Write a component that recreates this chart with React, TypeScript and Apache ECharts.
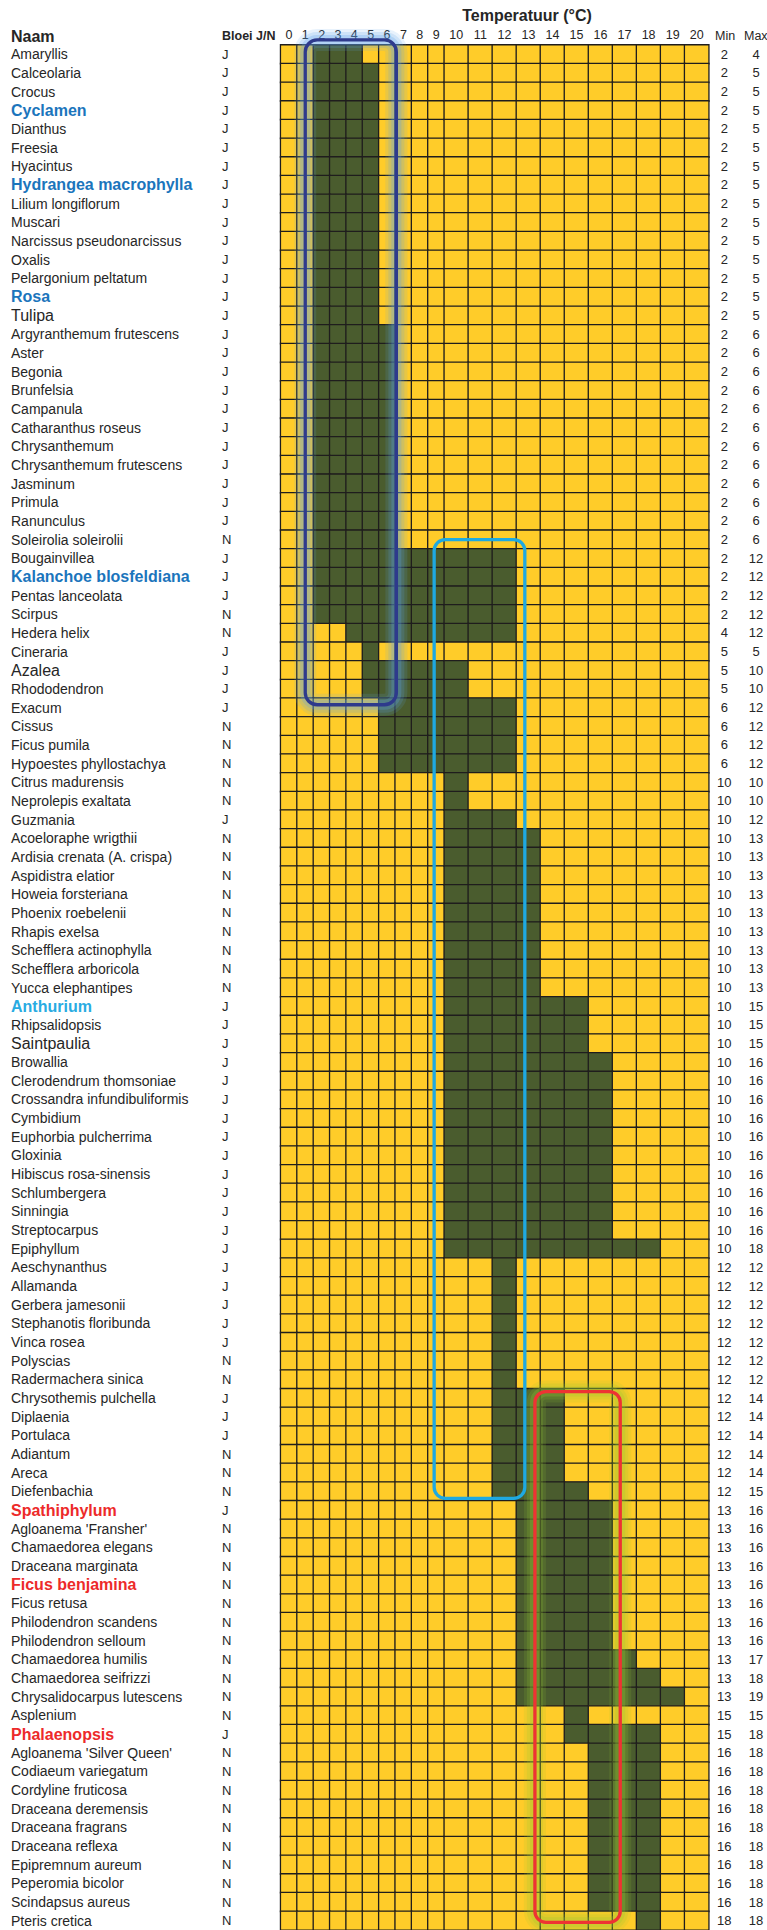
import React, { useEffect, useRef } from 'react';
import * as echarts from 'echarts';

const names = [
  'Amaryllis', 'Calceolaria', 'Crocus', 'Cyclamen', 'Dianthus', 'Freesia', 'Hyacintus',
  'Hydrangea macrophylla', 'Lilium longiflorum', 'Muscari', 'Narcissus pseudonarcissus', 'Oxalis',
  'Pelargonium peltatum', 'Rosa', 'Tulipa', 'Argyranthemum frutescens', 'Aster', 'Begonia',
  'Brunfelsia', 'Campanula', 'Catharanthus roseus', 'Chrysanthemum', 'Chrysanthemum frutescens',
  'Jasminum', 'Primula', 'Ranunculus', 'Soleirolia soleirolii', 'Bougainvillea',
  'Kalanchoe blosfeldiana', 'Pentas lanceolata', 'Scirpus', 'Hedera helix', 'Cineraria', 'Azalea',
  'Rhododendron', 'Exacum', 'Cissus', 'Ficus pumila', 'Hypoestes phyllostachya', 'Citrus madurensis',
  'Neprolepis exaltata', 'Guzmania', 'Acoeloraphe wrigthii', 'Ardisia crenata (A. crispa)',
  'Aspidistra elatior', 'Howeia forsteriana', 'Phoenix roebelenii', 'Rhapis exelsa',
  'Schefflera actinophylla', 'Schefflera arboricola', 'Yucca elephantipes', 'Anthurium',
  'Rhipsalidopsis', 'Saintpaulia', 'Browallia', 'Clerodendrum thomsoniae',
  'Crossandra infundibuliformis', 'Cymbidium', 'Euphorbia pulcherrima', 'Gloxinia',
  'Hibiscus rosa-sinensis', 'Schlumbergera', 'Sinningia', 'Streptocarpus', 'Epiphyllum',
  'Aeschynanthus', 'Allamanda', 'Gerbera jamesonii', 'Stephanotis floribunda', 'Vinca rosea',
  'Polyscias', 'Radermachera sinica', 'Chrysothemis pulchella', 'Diplaenia', 'Portulaca',
  'Adiantum', 'Areca', 'Diefenbachia', 'Spathiphylum', "Agloanema 'Fransher'",
  'Chamaedorea elegans', 'Draceana marginata', 'Ficus benjamina', 'Ficus retusa',
  'Philodendron scandens', 'Philodendron selloum', 'Chamaedorea humilis', 'Chamaedorea seifrizzi',
  'Chrysalidocarpus lutescens', 'Asplenium', 'Phalaenopsis', "Agloanema 'Silver Queen'",
  'Codiaeum variegatum', 'Cordyline fruticosa', 'Draceana deremensis', 'Draceana fragrans',
  'Draceana reflexa', 'Epipremnum aureum', 'Peperomia bicolor', 'Scindapsus aureus', 'Pteris cretica',
];

const bloei = [
  'J', 'J', 'J', 'J', 'J', 'J', 'J', 'J', 'J', 'J', 'J', 'J', 'J', 'J', 'J',
  'J', 'J', 'J', 'J', 'J', 'J', 'J', 'J', 'J', 'J', 'J', 'N', 'J', 'J', 'J',
  'N', 'N', 'J', 'J', 'J', 'J', 'N', 'N', 'N', 'N', 'N', 'J', 'N', 'N', 'N',
  'N', 'N', 'N', 'N', 'N', 'N', 'J', 'J', 'J', 'J', 'J', 'J', 'J', 'J', 'J',
  'J', 'J', 'J', 'J', 'J', 'J', 'J', 'J', 'J', 'J', 'N', 'N', 'J', 'J', 'J',
  'N', 'N', 'N', 'J', 'N', 'N', 'N', 'N', 'N', 'N', 'N', 'N', 'N', 'N', 'N',
  'J', 'N', 'N', 'N', 'N', 'N', 'N', 'N', 'N', 'N', 'N',
];

const minTemp = [
  2, 2, 2, 2, 2, 2, 2, 2, 2, 2, 2, 2, 2, 2, 2,
  2, 2, 2, 2, 2, 2, 2, 2, 2, 2, 2, 2, 2, 2, 2,
  2, 4, 5, 5, 5, 6, 6, 6, 6, 10, 10, 10, 10, 10, 10,
  10, 10, 10, 10, 10, 10, 10, 10, 10, 10, 10, 10, 10, 10, 10,
  10, 10, 10, 10, 10, 12, 12, 12, 12, 12, 12, 12, 12, 12, 12,
  12, 12, 12, 13, 13, 13, 13, 13, 13, 13, 13, 13, 13, 13, 15,
  15, 16, 16, 16, 16, 16, 16, 16, 16, 16, 18,
];

const maxTemp = [
  4, 5, 5, 5, 5, 5, 5, 5, 5, 5, 5, 5, 5, 5, 5,
  6, 6, 6, 6, 6, 6, 6, 6, 6, 6, 6, 6, 12, 12, 12,
  12, 12, 5, 10, 10, 12, 12, 12, 12, 10, 10, 12, 13, 13, 13,
  13, 13, 13, 13, 13, 13, 15, 15, 15, 16, 16, 16, 16, 16, 16,
  16, 16, 16, 16, 18, 12, 12, 12, 12, 12, 12, 12, 14, 14, 14,
  14, 14, 15, 16, 16, 16, 16, 16, 16, 16, 16, 17, 18, 19, 15,
  18, 18, 18, 18, 18, 18, 18, 18, 18, 18, 18,
];

const tempsLow = ['0', '1', '2', '3', '4', '5', '6', '7', '8', '9'];
const tempsHigh = ['10', '11', '12', '13', '14', '15', '16', '17', '18', '19', '20'];

const blueNames = ['Cyclamen', 'Hydrangea macrophylla', 'Rosa', 'Kalanchoe blosfeldiana'];
const cyanNames = ['Anthurium'];
const redNames = ['Spathiphylum', 'Ficus benjamina', 'Phalaenopsis'];
const largeNames = ['Tulipa', 'Azalea', 'Saintpaulia'];

const FONT = "'Liberation Sans', Arial, Helvetica, sans-serif";
const TEXT = '#262626';
const YELLOW = '#FFCC29';
const GREEN = '#4A5C2E';
const LINE = '#1f1d1d';

const cells = (cats: string[]) => {
  const out: number[][] = [];
  names.forEach((_, r) => {
    cats.forEach((c, ci) => {
      const t = Number(c);
      out.push([ci, r, t >= minTemp[r] && t <= maxTemp[r] ? 1 : 0]);
    });
  });
  return out;
};

const nameFormatter = (v: string) => {
  if (blueNames.includes(v)) return `{b|${v}}`;
  if (cyanNames.includes(v)) return `{c|${v}}`;
  if (redNames.includes(v)) return `{r|${v}}`;
  if (largeNames.includes(v)) return `{l|${v}}`;
  return `{n|${v}}`;
};

export default function App() {
  const ref = useRef<HTMLDivElement>(null);
  useEffect(() => {
    const chart = echarts.init(ref.current!, null, { renderer: 'svg' });
    const hiddenY = {
      type: 'category' as const,
      data: names,
      inverse: true,
      axisLine: { show: false },
      axisTick: { show: false },
      splitLine: { show: false },
    };
    const xCommon = {
      type: 'category' as const,
      position: 'top' as const,
      axisLine: { show: false },
      axisTick: { show: false },
      splitLine: { show: false },
      axisLabel: {
        margin: 4,
        interval: 0,
        formatter: (v: string) => `{t|${v}}`,
        rich: { t: { fontSize: 12.5, color: TEXT, fontFamily: FONT } },
      },
    };
    const colLabel = (margin: number, align: string, values: (string | number)[]) => ({
      interval: 0,
      align,
      margin,
      formatter: (_: string, i: number) => `{v|${values[i]}}`,
      rich: { v: { fontSize: 13, color: TEXT, fontFamily: FONT } },
    });
    const cellStyle = { borderColor: LINE, borderWidth: 1.3 };
    chart.setOption({
      animation: false,
      backgroundColor: '#ffffff',
      textStyle: { fontFamily: FONT },
      grid: [
        { left: 280.7, top: 45, width: 163.6, height: 1890.4 },
        { left: 444.3, top: 45, width: 264.4, height: 1890.4 },
      ],
      xAxis: [
        { ...xCommon, gridIndex: 0, data: tempsLow },
        { ...xCommon, gridIndex: 1, data: tempsHigh },
      ],
      yAxis: [
        {
          ...hiddenY,
          gridIndex: 0,
          position: 'left',
          axisLabel: {
            interval: 0,
            align: 'left',
            margin: 269.7,
            formatter: nameFormatter,
            rich: {
              n: { color: TEXT, fontSize: 14, fontFamily: FONT },
              b: { color: '#1B75BC', fontWeight: 'bold', fontSize: 16, fontFamily: FONT },
              c: { color: '#29ABE2', fontWeight: 'bold', fontSize: 16, fontFamily: FONT },
              r: { color: '#ED2A2A', fontWeight: 'bold', fontSize: 16, fontFamily: FONT },
              l: { color: TEXT, fontSize: 16, fontFamily: FONT },
            },
          },
        },
        { ...hiddenY, gridIndex: 0, position: 'left', axisLabel: colLabel(58.7, 'left', bloei) },
        { ...hiddenY, gridIndex: 1, position: 'right', axisLabel: colLabel(15.6, 'center', minTemp) },
        { ...hiddenY, gridIndex: 1, position: 'right', axisLabel: colLabel(47.3, 'center', maxTemp) },
      ],
      visualMap: {
        type: 'piecewise',
        show: false,
        dimension: 2,
        seriesIndex: [0, 1],
        pieces: [
          { value: 0, color: YELLOW },
          { value: 1, color: GREEN },
        ],
      },
      series: [
        {
          type: 'heatmap',
          xAxisIndex: 0,
          yAxisIndex: 0,
          data: cells(tempsLow),
          itemStyle: cellStyle,
          emphasis: { disabled: true },
        },
        {
          type: 'heatmap',
          xAxisIndex: 1,
          yAxisIndex: 2,
          data: cells(tempsHigh),
          itemStyle: cellStyle,
          emphasis: { disabled: true },
        },
      ],
    });

    const xPix = (t: number) => {
      const k = Math.max(0, Math.min(20, Math.round(t)));
      const ax = k < 10 ? 0 : 1;
      const i = k < 10 ? k : k - 10;
      const c = chart.convertToPixel({ xAxisIndex: ax }, i) as number;
      const n = chart.convertToPixel({ xAxisIndex: ax }, i + 1) as number;
      return c + (t - k) * (n - c);
    };
    const yPix = (r: number) => {
      const k = Math.round(r);
      const c = chart.convertToPixel({ yAxisIndex: 0 }, k) as number;
      const n = chart.convertToPixel({ yAxisIndex: 0 }, k + 1) as number;
      return c + (r - k) * (n - c);
    };

    const boxes = [
      { x0: 1.0, x1: 6.57, y0: -0.77, y1: 34.85, stroke: '#2E3A8C', glow: '90,160,235', r: 12 },
      { x0: 13.27, x1: 16.82, y0: 71.65, y1: 100.09, stroke: '#EE3333', glow: '150,200,50', r: 11 },
      { x0: 8.88, x1: 12.85, y0: 26.0, y1: 77.37, stroke: '#1FA9E1', glow: '', r: 11 },
    ];
    const glowLayers = [
      { w: 22, a: 0.14 },
      { w: 16, a: 0.18 },
      { w: 10, a: 0.25 },
    ];

    const boxGraphics: any[] = [];
    boxes.forEach((b, bi) => {
      const x = xPix(b.x0);
      const y = yPix(b.y0);
      const shape = { x, y, width: xPix(b.x1) - x, height: yPix(b.y1) - y, r: b.r };
      if (b.glow) {
        glowLayers.forEach((g) => {
          boxGraphics.push({
            type: 'rect',
            silent: true,
            z: 100 + bi * 2,
            shape,
            style: { fill: 'none', stroke: `rgba(${b.glow},${g.a})`, lineWidth: g.w },
          });
        });
      }
      boxGraphics.push({
        type: 'rect',
        silent: true,
        z: 101 + bi * 2,
        shape,
        style: { fill: 'none', stroke: b.stroke, lineWidth: 3.3 },
      });
    });

    const headText = (text: string, x: number, y: number, opts: any = {}) => ({
      type: 'text',
      silent: true,
      z: 50,
      x,
      y,
      style: {
        text,
        fill: TEXT,
        fontFamily: FONT,
        fontSize: 12.5,
        verticalAlign: 'middle',
        align: 'left',
        ...opts,
      },
    });

    chart.setOption({
      graphic: [
        headText('Temperatuur (°C)', 527, 15, { fontSize: 16, fontWeight: 'bold', align: 'center' }),
        headText('Naam', 11, 36, { fontSize: 16, fontWeight: 'bold' }),
        headText('Bloei J/N', 222, 36, { fontSize: 12.5, fontWeight: 'bold' }),
        headText('Min', 715, 36),
        headText('Max', 744, 36),
        ...boxGraphics,
      ],
    });

    return () => chart.dispose();
  }, []);
  return (
    <div
      ref={ref}
      style={{ position: 'absolute', left: 0, top: 0, width: 767, height: 1930 }}
    />
  );
}
